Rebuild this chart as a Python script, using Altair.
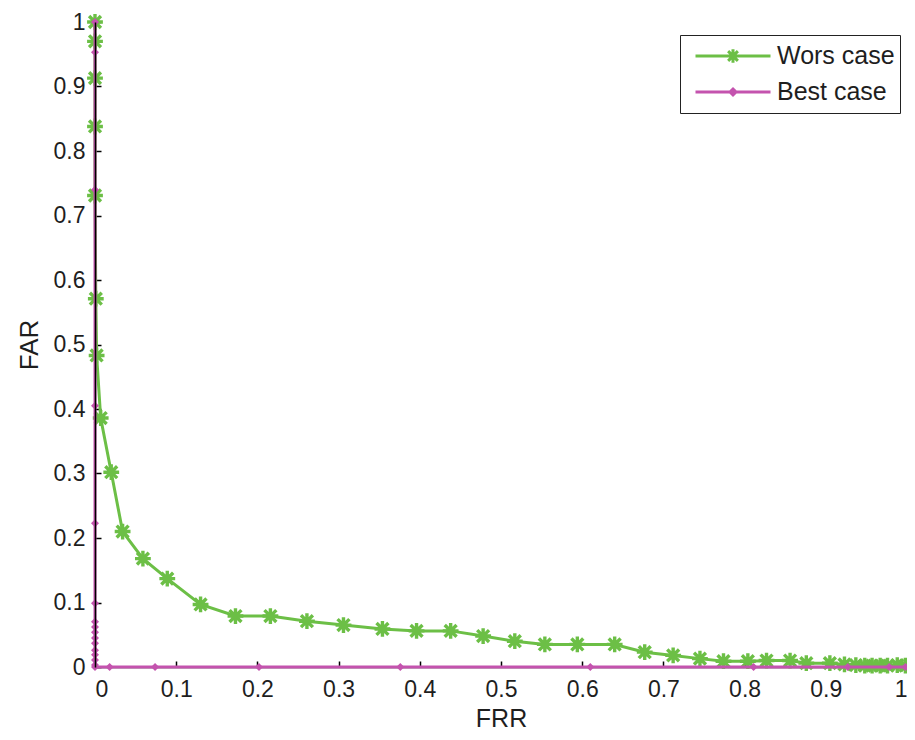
import altair as alt
import pandas as pd

# ---------------- data ----------------
wors_frr = [0.0, 0.0, 0.0, 0.0, 0.0, 0.001, 0.002, 0.007, 0.020, 0.034, 0.059, 0.089,
            0.130, 0.173, 0.216, 0.261, 0.306, 0.354, 0.396, 0.438, 0.478, 0.517,
            0.554, 0.594, 0.640, 0.677, 0.712, 0.745, 0.774, 0.804, 0.827, 0.856,
            0.876, 0.905, 0.923, 0.937, 0.948, 0.957, 0.967, 0.976, 0.988, 0.998]
wors_far = [1.0, 0.970, 0.913, 0.838, 0.731, 0.571, 0.483, 0.386, 0.302, 0.210, 0.168, 0.137,
            0.097, 0.079, 0.079, 0.071, 0.065, 0.059, 0.056, 0.056, 0.048, 0.040,
            0.035, 0.035, 0.035, 0.023, 0.018, 0.013, 0.009, 0.009, 0.010, 0.010,
            0.006, 0.006, 0.004, 0.003, 0.002, 0.002, 0.002, 0.002, 0.003, 0.002]

best_frr = [0.0, 0.0, 0.0, 0.0, 0.0, 0.0, 0.0, 0.0, 0.0, 0.0, 0.0, 0.0, 0.0, 0.0, 0.0, 0.0,
            0.018, 0.074, 0.202, 0.376, 0.610, 0.811, 0.927, 0.978, 0.998]
best_far = [1.0, 0.953, 0.740, 0.405, 0.223, 0.099, 0.070, 0.062, 0.054, 0.045, 0.037,
            0.026, 0.019, 0.011, 0.003, 0.0,
            0.0, 0.0, 0.0, 0.0, 0.0, 0.0, 0.0, 0.0, 0.0]

series_names = ["Wors case", "Best case"]
x_ticks = [0, 0.1, 0.2, 0.3, 0.4, 0.5, 0.6, 0.7, 0.8, 0.9, 1]
y_ticks = [0, 0.1, 0.2, 0.3, 0.4, 0.5, 0.6, 0.7, 0.8, 0.9, 1]

# ---------------- styling ----------------
GREEN = "#6cbf46"
MAGENTA = "#c453ae"
FONT = "Liberation Sans"
TXT = "#1e1e1e"
W, H = 812, 645

ASTER = "M0,-1L0,1M-1,0L1,0M-0.75,-0.75L0.75,0.75M-0.75,0.75L0.75,-0.75"
LEG_W = ("M-1,0L1,0M0,-0.18L0,0.18M-0.18,0L0.18,0"
         "M-0.13,-0.13L0.13,0.13M-0.13,0.13L0.13,-0.13")
LEG_B = "M-1,0L1,0M0,-0.08L0.08,0L0,0.08L-0.08,0Z"

wors = pd.DataFrame({"FRR": wors_frr, "FAR": wors_far, "i": list(range(len(wors_frr)))})
best = pd.DataFrame({"FRR": best_frr, "FAR": best_far, "i": list(range(len(best_frr)))})
leg = pd.DataFrame({"series": series_names, "FRR": [0.5, 0.5], "FAR": [9.0, 9.0]})

xscale = alt.Scale(domain=[0, 1], nice=False, zero=False)
yscale = alt.Scale(domain=[0, 1], nice=False, zero=False)

main_x_axis = alt.Axis(values=x_ticks, format="~g", title="FRR", tickSize=0,
                       labelPadding=11, titlePadding=5, grid=False,
                       domainColor="black", domainWidth=1.5,
                       labelFont=FONT, labelFontSize=23, labelColor=TXT,
                       titleFont=FONT, titleFontSize=25, titleFontWeight="normal",
                       titleColor=TXT)
main_y_axis = alt.Axis(values=y_ticks, format="~g", title="FAR", tickSize=0,
                       labelPadding=10, titlePadding=11, grid=False,
                       domainColor="black", domainWidth=1.5, zindex=1,
                       labelFont=FONT, labelFontSize=23, labelColor=TXT,
                       titleFont=FONT, titleFontSize=26, titleFontWeight="normal",
                       titleColor=TXT)
inner_x_axis = alt.Axis(orient="top", offset=-H, values=x_ticks, labels=False,
                        domain=False, ticks=True, tickSize=6, tickColor="black",
                        tickWidth=1.5, title=None, grid=False)
inner_y_axis = alt.Axis(orient="right", offset=-W, values=y_ticks, labels=False,
                        domain=False, ticks=True, tickSize=6, tickColor="black",
                        tickWidth=1.5, title=None, grid=False)

wors_line = alt.Chart(wors).mark_line(color=GREEN, strokeWidth=3).encode(
    x=alt.X("FRR:Q", scale=xscale, axis=main_x_axis),
    y=alt.Y("FAR:Q", scale=yscale, axis=main_y_axis),
    order=alt.Order("i:Q"),
)
wors_pts = alt.Chart(wors).mark_point(shape=ASTER, size=250, filled=False,
                                      color=GREEN, strokeWidth=3.4, opacity=1).encode(
    x=alt.X("FRR:Q", scale=xscale, axis=inner_x_axis),
    y=alt.Y("FAR:Q", scale=yscale, axis=inner_y_axis),
)
best_line = alt.Chart(best).mark_line(color=MAGENTA, strokeWidth=3).encode(
    x=alt.X("FRR:Q", scale=xscale, axis=None),
    y=alt.Y("FAR:Q", scale=yscale, axis=None),
    order=alt.Order("i:Q"),
)
best_pts = alt.Chart(best).mark_point(shape="diamond", size=64, filled=True,
                                      color=MAGENTA, opacity=1).encode(
    x=alt.X("FRR:Q", scale=xscale, axis=None),
    y=alt.Y("FAR:Q", scale=yscale, axis=None),
)

legend_props = dict(orient="none", legendX=585, legendY=13, title=None,
                    padding=5, symbolOffset=9, strokeColor="#222222", fillColor="white",
                    symbolSize=5625, symbolStrokeWidth=3, symbolOpacity=1,
                    labelFont=FONT, labelFontSize=25, labelColor=TXT,
                    labelOffset=5, clipHeight=32, rowPadding=4)

legend_layer = alt.Chart(leg).mark_point(filled=False, strokeWidth=3).encode(
    x=alt.X("FRR:Q", scale=xscale, axis=None),
    y=alt.Y("FAR:Q", scale=yscale, axis=None),
    color=alt.Color("series:N", scale=alt.Scale(domain=series_names, range=[GREEN, MAGENTA]),
                    legend=alt.Legend(**legend_props)),
    shape=alt.Shape("series:N", scale=alt.Scale(domain=series_names, range=[LEG_W, LEG_B]),
                    legend=alt.Legend(**legend_props)),
).transform_filter("datum.FAR < 2")

chart = alt.layer(wors_line, wors_pts, best_line, best_pts, legend_layer).resolve_axis(
    x="independent", y="independent"
).properties(
    width=W, height=H,
    padding={"left": 87, "top": 14, "right": 0, "bottom": 68},
    autosize=alt.AutoSizeParams(type="none"),
    background="white",
).configure_view(stroke=None)

chart.save("out.html", embed_options={"renderer": "svg", "actions": False})
